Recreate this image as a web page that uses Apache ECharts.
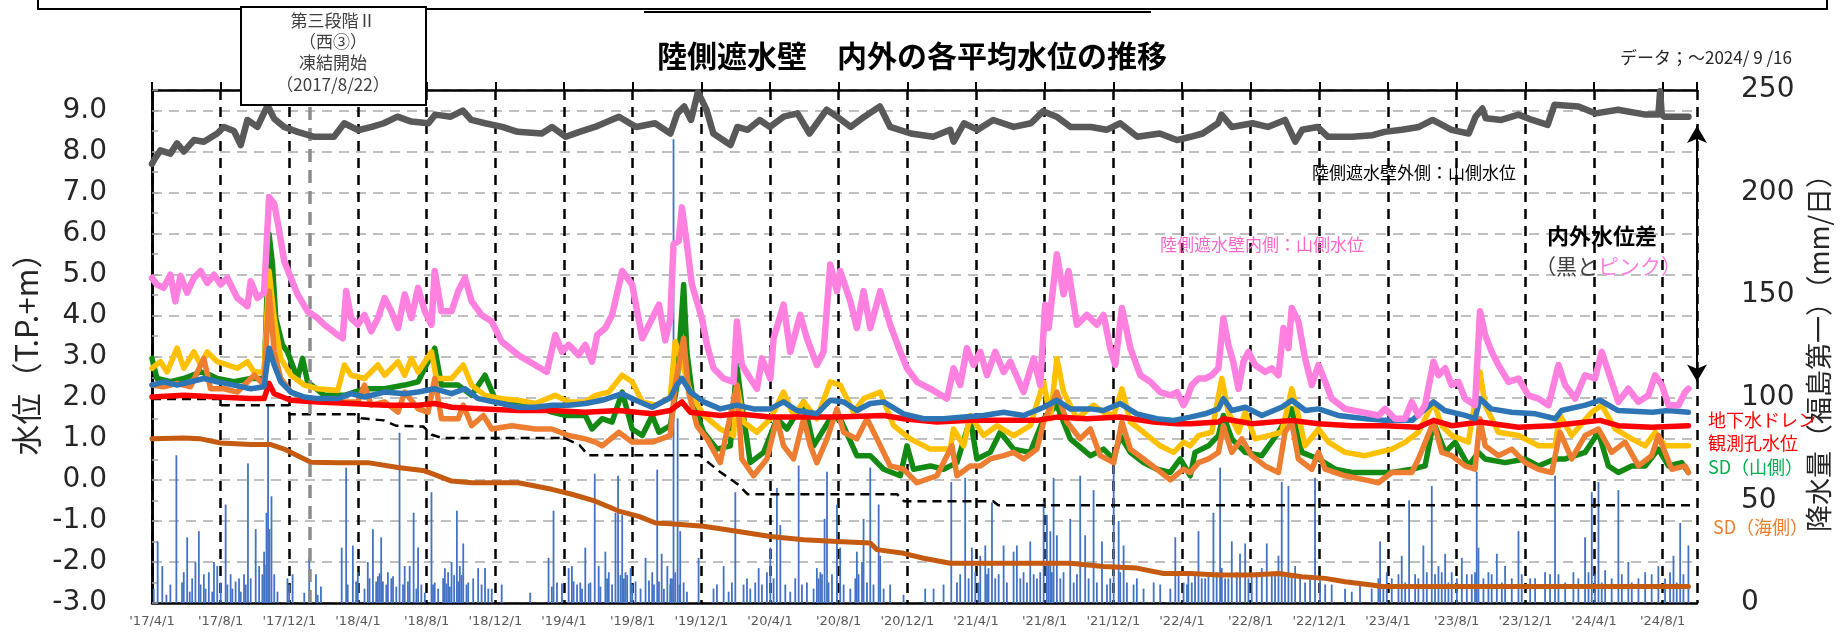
<!DOCTYPE html>
<html>
<head>
<meta charset="utf-8">
<script src="https://cdn.jsdelivr.net/npm/echarts@6/dist/echarts.min.js"></script>
<style>
html, body { margin: 0; padding: 0; background: #fff; }
#main { width: 1845px; height: 636px; }
</style>
</head>
<body>
<div id="main"></div>
<script>
// 横軸は 2017/4/1 からの経過月数（4か月ごとに目盛）
var tickLabels = ["'17/4/1", "'17/8/1", "'17/12/1", "'18/4/1", "'18/8/1", "'18/12/1",
    "'19/4/1", "'19/8/1", "'19/12/1", "'20/4/1", "'20/8/1", "'20/12/1",
    "'21/4/1", "'21/8/1", "'21/12/1", "'22/4/1", "'22/8/1", "'22/12/1",
    "'23/4/1", "'23/8/1", "'23/12/1", "'24/4/1", "'24/8/1"];

// 陸側遮水壁外側：山側水位（黒）
var outerMountain = [[0,7.7],[0.2,7.85],[0.49,8.03],[1.07,7.95],[1.46,8.2],[1.85,8.0],[2.44,8.28],[3.02,8.24],[3.8,8.44],[4.19,8.6],[4.78,8.5],[5.17,8.16],[5.56,8.77],[6.14,8.6],[6.73,9.12],[7.12,8.8],[7.7,8.6],[8.48,8.48],[9.45,8.36],[10.6,8.36],[11.2,8.69],[12.0,8.52],[12.8,8.6],[13.5,8.69],[14.3,8.85],[15.1,8.73],[16.1,8.69],[16.5,8.9],[17.4,8.85],[18.1,9.0],[18.6,8.77],[19.4,8.69],[20.4,8.6],[21.3,8.48],[22.7,8.44],[23.3,8.6],[24.1,8.36],[24.9,8.48],[25.8,8.6],[27.2,8.85],[28.2,8.6],[29.3,8.69],[30.2,8.44],[30.6,8.93],[31.0,9.1],[31.4,8.77],[31.8,9.45],[32.3,9.02],[32.7,8.44],[33.7,8.16],[34.1,8.6],[34.7,8.53],[35.4,8.77],[36.0,8.6],[36.8,8.85],[37.6,8.93],[38.3,8.44],[39.3,9.02],[39.9,8.85],[40.7,8.6],[41.5,8.85],[42.4,9.1],[43.0,8.6],[44.2,8.44],[45.5,8.36],[46.5,8.53],[46.7,8.24],[47.3,8.69],[48.1,8.53],[49.0,8.77],[50.2,8.6],[51.2,8.69],[51.9,8.98],[52.7,8.85],[53.5,8.6],[54.7,8.6],[55.6,8.53],[56.4,8.69],[57.4,8.36],[58.7,8.44],[59.7,8.28],[60.5,8.36],[61.2,8.44],[62.1,8.69],[62.3,8.9],[62.9,8.6],[64.1,8.69],[65.0,8.6],[66.0,8.77],[66.6,8.24],[67.0,8.53],[67.9,8.6],[68.5,8.36],[69.9,8.36],[71.1,8.4],[71.8,8.48],[72.8,8.53],[73.8,8.6],[74.6,8.77],[75.7,8.53],[76.7,8.44],[77.1,8.85],[77.5,9.05],[77.7,8.81],[78.6,8.77],[79.6,8.9],[80.4,8.77],[81.3,8.65],[81.7,9.14],[83.1,9.1],[84.1,8.93],[85.4,9.02],[87.0,8.9],[87.75,8.9],[87.85,9.47],[87.95,8.9],[88.1,8.85],[89.5,8.85]];

// 陸側遮水壁内側：山側水位（ピンク）
var innerMountain = [[0,4.92],[0.29,4.76],[0.68,4.68],[1.07,5.0],[1.36,4.35],[1.66,4.97],[2.05,4.56],[2.44,4.92],[2.83,5.09],[3.22,4.8],[3.61,5.0],[4.0,4.76],[4.39,4.92],[4.97,4.43],[5.56,4.23],[5.75,4.84],[6.14,4.43],[6.53,4.56],[6.82,6.89],[7.12,6.73],[7.41,6.07],[7.7,5.33],[8.09,4.92],[8.48,4.52],[9.06,4.11],[9.65,3.94],[10.04,3.78],[10.82,3.53],[11.11,3.45],[11.31,4.6],[11.6,3.94],[11.99,3.78],[12.38,4.02],[12.77,3.62],[13.16,3.94],[13.55,4.43],[13.94,4.11],[14.33,3.7],[14.72,4.52],[15.11,3.94],[15.5,4.68],[15.89,4.11],[16.28,3.78],[16.47,5.09],[16.86,4.11],[17.45,4.11],[17.84,4.6],[18.23,4.92],[18.62,4.35],[19.2,4.02],[19.79,3.86],[20.37,3.37],[21.34,3.04],[22.32,2.8],[23.0,2.63],[23.49,3.53],[23.88,3.12],[24.27,3.29],[24.85,3.04],[25.24,3.29],[25.63,2.88],[25.93,3.53],[26.41,3.7],[26.8,4.02],[27.39,5.09],[27.97,4.76],[28.56,3.45],[28.95,3.78],[29.53,4.27],[29.9,3.4],[30.19,3.94],[30.38,5.74],[30.68,5.82],[30.87,6.64],[31.16,5.74],[31.45,4.76],[31.74,4.35],[32.03,3.94],[32.33,3.29],[32.71,2.72],[33.3,2.47],[33.88,2.39],[34.07,3.86],[34.36,2.8],[34.85,2.47],[35.24,2.22],[35.53,2.96],[36.02,2.47],[36.21,3.45],[36.79,4.27],[37.18,3.12],[37.76,4.02],[38.15,3.45],[38.73,2.8],[39.12,3.12],[39.51,5.25],[39.9,4.6],[40.09,5.09],[40.68,4.35],[41.06,3.7],[41.45,4.6],[41.84,3.7],[42.42,4.6],[43.0,3.78],[43.59,3.12],[43.98,2.72],[44.56,2.39],[45.34,2.22],[46.31,1.98],[46.69,2.72],[47.08,2.31],[47.47,3.21],[47.86,2.8],[48.25,3.12],[48.64,2.55],[49.12,3.12],[49.61,2.63],[50.0,2.88],[50.77,2.14],[51.36,2.96],[51.74,2.31],[52.03,4.27],[52.23,3.7],[52.71,5.5],[53.1,4.52],[53.39,5.09],[53.88,3.78],[54.46,4.02],[55.04,3.78],[55.43,4.02],[55.82,3.21],[56.11,2.8],[56.5,4.19],[56.99,3.21],[57.57,2.55],[58.15,2.39],[58.73,2.14],[59.32,2.06],[59.71,2.14],[60.09,1.82],[60.3,2.0],[60.57,2.31],[60.96,2.47],[61.35,2.47],[61.73,2.55],[62.12,2.72],[62.41,3.94],[62.7,3.29],[62.98,2.88],[63.29,2.22],[63.58,2.88],[63.87,3.12],[64.26,2.8],[64.84,2.63],[65.23,2.72],[65.62,2.55],[65.91,3.7],[66.2,3.21],[66.39,4.19],[66.78,3.86],[67.17,2.96],[67.56,2.31],[67.95,2.8],[68.34,2.39],[68.72,1.98],[69.5,1.73],[70.47,1.65],[71.44,1.57],[71.83,1.73],[72.41,1.49],[72.99,1.49],[73.38,1.9],[73.77,1.57],[74.16,1.82],[74.65,2.88],[74.94,2.55],[75.33,2.72],[75.71,2.31],[76.1,2.39],[76.49,1.98],[77.07,1.82],[77.36,4.11],[77.66,3.53],[78.04,3.12],[78.43,2.8],[79.02,2.39],[79.6,2.47],[80.18,2.06],[80.76,1.98],[81.35,1.82],[81.93,2.8],[82.32,2.31],[82.9,1.98],[83.48,2.55],[84.06,2.47],[84.45,3.12],[84.84,2.63],[85.42,1.9],[86.0,2.22],[86.59,1.9],[87.17,2.06],[87.56,2.55],[87.95,2.31],[88.34,1.82],[88.92,1.82],[89.31,2.14],[89.5,2.22]];

// 青線
var blueLevel = [[0,2.31],[0.68,2.39],[1.46,2.31],[2.24,2.39],[3.02,2.47],[3.8,2.39],[4.78,2.31],[5.75,2.22],[6.53,2.27],[6.82,3.21],[7.12,2.8],[7.5,2.39],[8.09,2.14],[8.87,2.02],[9.65,1.98],[10.82,1.98],[11.6,2.1],[12.38,2.02],[13.55,2.14],[14.72,2.1],[15.5,2.14],[16.47,2.22],[17.45,2.1],[18.23,2.22],[19.0,1.98],[20.37,1.86],[21.34,1.77],[22.32,1.77],[23.29,1.82],[24.27,1.82],[25.24,1.86],[26.22,1.94],[27.39,2.1],[28.17,1.94],[29.14,1.77],[30.19,2.0],[30.57,2.31],[30.87,2.47],[31.36,2.14],[32.13,1.9],[33.1,1.73],[34.07,1.82],[35.04,1.73],[36.02,1.73],[36.79,1.9],[37.57,1.69],[38.73,1.61],[39.51,1.94],[40.29,1.9],[41.06,1.69],[41.84,1.86],[42.62,1.9],[43.78,1.61],[44.95,1.49],[46.11,1.49],[47.28,1.53],[48.44,1.57],[49.61,1.65],[50.77,1.57],[51.94,1.77],[52.71,1.94],[53.49,1.73],[54.65,1.73],[55.43,1.69],[56.4,1.86],[57.37,1.61],[58.54,1.49],[59.51,1.45],[60.48,1.53],[61.35,1.61],[62.12,1.73],[62.41,1.98],[62.9,1.69],[63.7,1.77],[64.65,1.57],[65.8,1.77],[66.4,1.94],[67.2,1.69],[67.95,1.73],[69.1,1.57],[70.7,1.49],[71.8,1.45],[73.4,1.45],[74.65,1.9],[75.3,1.69],[76.5,1.57],[77.07,1.49],[77.36,1.98],[78.0,1.73],[79.2,1.65],[80.6,1.61],[81.75,1.49],[82.1,1.69],[83.5,1.82],[84.35,1.94],[85.4,1.69],[87.4,1.65],[88.3,1.69],[89.5,1.65]];

// 地下水ドレン観測孔水位（赤）
var drainLevel = [[0,2.02],[1.85,2.06],[3.8,2.02],[5.75,1.98],[6.53,1.98],[6.82,2.35],[7.12,2.1],[8.09,1.94],[9.65,1.9],[11.6,1.86],[13.55,1.82],[15.5,1.82],[16.47,1.86],[17.45,1.77],[19.4,1.73],[21.34,1.69],[23.29,1.69],[25.24,1.65],[27.19,1.69],[29.14,1.61],[30.19,1.69],[30.87,1.9],[31.36,1.65],[33.1,1.57],[34.07,1.61],[36.02,1.53],[37.96,1.53],[39.9,1.53],[42.62,1.57],[43.78,1.49],[45.72,1.41],[47.67,1.45],[49.61,1.45],[51.55,1.45],[52.71,1.53],[54.46,1.49],[56.4,1.53],[58.35,1.41],[59.71,1.37],[60.48,1.37],[62.12,1.41],[62.41,1.49],[64.06,1.37],[66.39,1.45],[67.95,1.37],[69.89,1.32],[71.83,1.32],[73.77,1.28],[74.65,1.45],[75.71,1.32],[77.36,1.41],[79.6,1.28],[81.54,1.32],[84.35,1.45],[85.42,1.32],[87.36,1.28],[89.5,1.32]];

// 黄線
var yellowLevel = [[0,2.72],[0.49,2.88],[0.88,2.63],[1.46,3.21],[1.85,2.72],[2.44,3.12],[2.83,2.8],[3.22,3.12],[3.8,2.88],[4.39,2.8],[4.97,2.72],[5.56,2.88],[5.95,2.63],[6.53,2.63],[6.82,5.09],[7.12,3.94],[7.5,2.96],[8.09,2.55],[8.87,2.31],[9.65,2.22],[10.82,2.18],[11.21,2.8],[11.6,2.55],[12.38,2.47],[13.16,2.8],[13.55,2.55],[14.33,2.88],[14.72,2.55],[15.11,2.96],[15.5,2.63],[16.28,3.12],[16.57,2.47],[17.45,2.47],[18.13,2.8],[18.62,2.31],[19.4,2.06],[20.37,1.98],[21.34,1.94],[22.32,1.86],[23.49,2.06],[24.27,1.9],[25.24,1.9],[25.83,2.06],[26.61,2.14],[27.39,2.55],[27.97,2.39],[28.56,1.9],[29.34,1.82],[30.19,2.0],[30.48,3.37],[30.87,2.88],[31.36,2.14],[32.13,1.57],[33.1,1.24],[33.88,1.08],[34.07,2.31],[34.46,1.41],[35.24,1.16],[36.02,1.49],[36.79,2.14],[37.37,1.57],[37.96,1.9],[38.73,1.49],[39.51,2.39],[40.09,2.31],[40.87,1.65],[41.45,1.98],[42.42,2.14],[43.2,1.32],[44.17,1.0],[45.34,0.75],[46.5,0.75],[46.69,1.24],[47.28,0.83],[47.67,1.57],[48.44,1.08],[49.22,1.32],[50.19,1.08],[51.16,1.32],[51.94,2.39],[52.33,1.49],[52.71,2.96],[53.1,2.14],[53.88,1.49],[54.85,1.82],[55.43,1.65],[56.02,1.57],[56.5,2.22],[56.99,1.41],[57.76,1.16],[58.73,0.83],[59.51,0.67],[60.09,0.92],[60.48,0.83],[60.96,1.08],[61.73,1.16],[62.32,2.47],[62.7,1.65],[63.29,1.16],[63.68,1.65],[64.26,1.0],[65.03,1.08],[65.81,1.16],[66.39,2.22],[66.78,1.57],[67.17,0.83],[67.95,1.24],[68.53,0.92],[69.5,0.67],[70.67,0.59],[71.44,0.67],[72.22,0.75],[73.0,0.92],[73.77,1.16],[74.65,1.9],[75.13,1.32],[75.71,1.08],[76.68,0.92],[77.36,2.63],[77.66,1.82],[78.43,1.16],[79.6,1.08],[80.76,0.83],[81.73,0.83],[82.02,1.57],[82.7,1.08],[83.87,1.65],[84.45,1.82],[85.23,1.24],[86.2,1.0],[86.98,0.83],[87.56,1.16],[88.14,0.83],[88.92,0.83],[89.5,0.83]];

// SD（山側）（緑）
var sdMountain = [[0,2.96],[0.29,2.47],[1.07,2.39],[1.85,2.47],[2.83,2.63],[3.41,2.55],[3.8,2.47],[4.78,2.39],[5.75,2.47],[6.53,2.47],[6.82,5.99],[7.02,5.25],[7.21,3.94],[7.6,3.29],[7.89,3.12],[8.48,2.47],[8.77,2.96],[9.06,2.39],[10.04,2.06],[11.21,2.06],[12.38,2.22],[13.55,2.22],[14.72,2.31],[15.5,2.39],[16.47,3.21],[16.86,2.31],[17.84,2.31],[18.62,2.06],[19.4,2.55],[19.98,1.98],[21.34,1.9],[22.32,1.82],[23.29,1.65],[24.07,1.57],[25.24,1.57],[25.63,1.24],[26.22,1.49],[26.8,1.41],[27.39,2.14],[27.97,1.24],[28.56,1.08],[29.14,1.57],[29.53,1.16],[30.19,1.32],[30.58,2.31],[30.97,4.76],[31.16,3.12],[31.55,1.82],[32.13,1.16],[32.91,0.75],[33.69,0.83],[34.07,2.8],[34.36,1.82],[34.85,0.42],[35.63,0.67],[36.4,1.49],[36.99,1.24],[37.96,1.9],[38.54,0.83],[39.51,1.49],[40.09,1.49],[41.06,0.59],[41.84,0.59],[42.62,0.26],[43.59,0.1],[43.98,0.83],[44.36,0.26],[45.34,0.34],[46.11,0.26],[46.89,0.42],[47.67,1.49],[48.05,0.51],[48.83,0.67],[49.41,1.16],[50.19,0.75],[51.16,0.67],[51.94,1.49],[52.71,1.82],[53.49,1.0],[54.66,0.59],[55.43,0.75],[56.02,0.51],[56.4,1.08],[56.99,0.67],[57.76,0.42],[58.54,0.26],[59.32,0.18],[59.9,0.51],[60.48,0.1],[60.76,0.67],[61.54,0.83],[62.12,1.08],[62.41,1.57],[62.9,1.0],[63.68,0.67],[64.65,0.59],[65.62,1.16],[66.39,1.73],[66.98,0.67],[67.95,0.51],[68.92,0.26],[69.89,0.18],[71.05,0.18],[72.22,0.18],[73.38,0.26],[74.16,0.34],[74.65,1.41],[75.33,0.67],[75.91,0.92],[76.69,0.34],[77.27,0.67],[77.66,0.51],[78.82,0.42],[79.99,0.51],[80.76,0.34],[81.73,0.51],[82.32,0.51],[83.48,0.67],[84.26,1.16],[84.84,0.34],[85.42,0.18],[86.2,0.34],[86.98,0.34],[87.75,0.75],[88.34,0.34],[89.11,0.42],[89.5,0.18]];

// SD（海側）（橙）
var sdSea = [[0,2.31],[0.68,2.27],[1.46,2.35],[2.24,2.27],[3.02,2.96],[3.41,2.22],[4.19,2.22],[4.97,2.14],[5.95,2.55],[6.53,2.31],[6.82,4.6],[7.12,3.12],[7.5,2.47],[8.09,2.14],[8.87,1.98],[10.04,1.94],[11.21,1.9],[11.99,1.9],[12.38,2.31],[12.77,1.82],[13.55,1.9],[14.33,1.65],[14.72,2.14],[15.5,1.73],[16.08,1.65],[16.47,2.47],[16.86,1.49],[17.84,1.49],[18.13,1.82],[18.62,1.32],[19.3,1.57],[19.79,1.24],[20.96,1.32],[22.32,1.24],[23.29,1.24],[24.27,1.08],[25.24,1.0],[25.83,0.92],[26.22,0.83],[27.19,1.16],[27.97,0.92],[29.14,0.92],[30.19,1.08],[30.48,2.31],[30.97,3.45],[31.26,2.14],[31.74,1.32],[32.33,1.0],[33.1,0.42],[34.07,2.31],[34.36,0.51],[35.04,0.1],[35.82,0.51],[36.4,1.49],[36.79,0.83],[37.37,0.51],[37.96,1.49],[38.35,0.83],[38.73,0.42],[39.32,1.0],[39.9,1.73],[40.29,1.16],[41.06,1.0],[41.65,1.49],[42.23,1.0],[43.0,0.34],[43.78,0.26],[44.56,-0.07],[45.72,0.1],[46.6,0.83],[46.89,0.1],[47.67,0.34],[48.25,0.34],[48.83,0.51],[49.61,0.59],[50.19,0.67],[50.77,0.51],[51.55,0.75],[51.94,1.41],[52.71,2.14],[53.3,1.41],[54.07,1.0],[54.66,1.24],[55.24,0.59],[56.02,0.42],[56.5,1.41],[56.99,0.75],[57.76,0.51],[58.54,0.26],[59.32,0.0],[60.09,0.26],[60.48,0.18],[60.96,0.42],[61.54,0.51],[62.12,0.67],[62.41,1.32],[62.9,0.67],[63.48,1.0],[64.06,0.59],[64.84,0.34],[65.62,0.18],[66.0,1.16],[66.39,1.41],[66.78,0.51],[67.56,0.26],[67.95,0.67],[68.34,0.26],[69.5,0.1],[70.67,0.0],[71.44,-0.07],[72.22,0.18],[73.38,0.18],[73.77,0.51],[74.65,1.41],[75.13,0.67],[75.71,0.59],[76.49,0.34],[77.07,0.26],[77.36,1.49],[77.66,0.83],[78.43,0.59],[79.21,0.75],[79.99,0.42],[80.76,0.26],[81.54,0.18],[82.02,1.16],[82.7,0.51],[83.48,1.08],[84.26,1.24],[85.03,0.67],[85.81,0.92],[86.59,0.34],[87.36,0.59],[87.75,1.08],[88.53,0.26],[89.31,0.34],[89.5,0.18]];

// 茶線（下段）
var brownLevel = [[0,1.0],[1.85,1.02],[2.83,1.0],[4.0,0.9],[5.75,0.86],[6.92,0.86],[7.7,0.75],[8.48,0.59],[9.26,0.43],[10.82,0.42],[12.57,0.42],[14.33,0.3],[15.89,0.22],[17.45,-0.03],[18.62,-0.07],[19.98,-0.07],[21.34,-0.07],[23.29,-0.23],[24.46,-0.35],[25.83,-0.52],[27.19,-0.76],[28.36,-0.89],[29.34,-1.05],[30.21,-1.07],[32.13,-1.13],[34.07,-1.25],[36.02,-1.38],[37.96,-1.46],[39.9,-1.5],[41.84,-1.54],[42.23,-1.7],[43.78,-1.79],[44.95,-1.91],[46.5,-2.03],[49.61,-2.03],[53.49,-2.03],[55.43,-2.11],[57.37,-2.15],[58.93,-2.28],[60.48,-2.28],[62.12,-2.32],[64.06,-2.32],[65.62,-2.28],[66.98,-2.36],[68.34,-2.4],[69.5,-2.48],[71.05,-2.56],[71.64,-2.6],[89.5,-2.6]];

// 黒破線（段階的に下がる線）
var stepLevel = [[0,1.97],[4,1.97],[4,1.82],[8,1.82],[8,1.6],[11.8,1.6],[12.2,1.5],[13.5,1.45],[14.2,1.32],[15.8,1.3],[16.3,1.1],[16.9,1.02],[24.0,1.02],[24.9,0.85],[25.4,0.6],[31.9,0.6],[33.1,0.19],[34.1,-0.1],[34.7,-0.35],[43.4,-0.35],[43.8,-0.52],[49.0,-0.52],[49.3,-0.62],[89.6,-0.62]];

// 降水量（mm/日）
var rainPeaks = [[0.33,30],[0.6,18],[1.42,72],[1.85,15],[2.05,32],[2.34,12],[2.53,20],[2.73,35],[3.02,14],[3.31,15],[3.61,20],[3.8,18],[4.29,48],[4.58,14],[5.07,12],[5.36,14],[5.59,68],[5.75,12],[6.04,36],[6.24,18],[6.53,25],[6.67,44],[6.76,97],[6.84,36],[6.96,52],[7.12,14],[7.89,12],[8.19,14],[8.87,5],[9.16,22],[9.55,14],[9.84,8],[11.05,27],[11.31,66],[11.7,28],[11.99,15],[12.57,20],[12.87,36],[13.16,13],[13.35,32],[13.74,15],[14.04,13],[14.42,83],[14.72,18],[15.01,18],[15.24,44],[15.5,27],[15.89,5],[16.28,54],[16.47,10],[17.06,17],[17.25,15],[17.45,20],[17.76,45],[17.93,18],[18.13,29],[18.42,10],[19.0,17],[19.4,17],[19.79,7],[20.37,9],[22.03,5],[23.1,22],[23.39,45],[23.59,10],[24.27,17],[24.46,18],[24.95,10],[25.24,27],[25.54,10],[25.79,63],[26.02,18],[26.41,25],[26.61,15],[27.0,44],[27.15,62],[27.39,43],[27.58,15],[27.88,17],[28.75,22],[29.14,15],[29.43,65],[29.69,24],[30.02,18],[30.21,12],
    [30.38,226],[30.62,90],[30.77,35],[30.97,10],[31.84,22],[33.3,18],[33.98,54],[34.66,12],[35.34,17],[36.02,27],[36.4,56],[36.6,38],[37.67,67],[38.73,17],[39.18,41],[39.32,64],[39.9,48],[40.09,27],[41.06,25],[41.36,20],[41.45,41],[41.84,66],[42.33,48],[42.42,23],[43.0,9],[43.78,4],[45.04,7],[46.56,59],[47.37,61],[47.76,27],[48.25,23],[48.54,28],[48.93,49],[49.61,28],[50.19,25],[50.38,28],[51.16,30],[51.94,49],[52.13,43],[52.33,35],[52.52,61],[52.71,33],[53.49,41],[54.07,62],[54.36,33],[54.85,55],[55.34,30],[56.02,67],[56.31,40],[56.6,28],[57.37,12],[58.35,10],[59.61,32],[60.09,10],
    [60.96,35],[61.35,12],[61.83,44],[62.22,66],[62.51,12],[62.9,30],[63.38,24],[63.68,29],[64.06,15],[64.94,29],[65.23,15],[65.62,23],[65.81,59],[66.2,57],[66.59,18],[67.75,61],[68.04,12],[68.72,9],[69.5,7],[70.37,10],[71.54,30],[71.93,15],[72.8,23],[73.23,50],[73.58,14],[74.06,28],[74.55,57],[74.94,18],[75.33,24],[75.71,15],[76.3,22],[76.88,14],[77.17,64],[77.27,27],[77.85,15],[78.34,24],[78.82,18],[79.6,35],[80.28,12],[81.15,15],[81.73,62],[82.8,15],[83.48,32],[83.87,54],[84.26,59],[84.65,16],[85.42,55],[86.0,20],[86.98,15],[87.75,18],[88.63,23],[89.02,39],[89.5,28]];
var rainSmall = [[0.1,7],[0.84,4],[1.07,9],[1.75,10],[2.2,5.5],[2.83,9],[3.12,7],[3.51,5.5],[4.0,10],[4.39,9],[4.68,7],[4.87,10.5],[5.17,5.5],[5.46,9],[6.43,14],[6.57,18.5],[7.31,5.5],[7.99,9],[9.65,4],[11.4,9],[11.89,10.5],[12.38,7],[12.67,12],[13.06,10.5],[13.26,14.5],[13.45,10.5],[13.65,9],[13.94,12],[14.23,8],[14.62,9],[14.91,10.5],[15.4,7],[15.69,9],[16.37,9],[16.67,7],[16.96,12],[17.15,9.5],[17.35,8],[17.6,13.6],[17.84,10.5],[18.03,13.6],[18.32,9],[18.71,12],[19.2,9],[19.59,7],[23.29,8],[23.88,9.5],[24.56,10.5],[24.76,9],[25.05,7],[25.44,9.5],[26.12,8],[26.51,12],[26.8,9],[27.29,13.6],[27.49,12],[27.68,13.6],[27.97,9],[28.17,10.5],[28.46,7],[28.95,11],[29.24,9],[29.53,10.5],[29.82,7],
    [30.19,9],[30.29,12],[30.48,15],[30.73,9],[31.16,5.5],[32.71,7],[32.91,9],[33.59,5.5],[33.78,10],[34.46,9],[34.85,7],[35.14,10],[35.53,9],[35.82,15],[36.21,12],[36.89,9],[37.18,5.5],[37.47,12],[37.86,9],[38.15,10],[38.54,7],[38.83,12],[38.93,15],[39.03,14],[39.41,10],[39.61,14],[40.29,9],[40.68,7],[40.97,12],[41.16,14],[41.65,10],[42.03,9],[42.62,7],[45.53,7],[46.11,9],[46.89,10],[47.08,14],[47.57,12],[47.96,15],[48.15,10],[48.64,14],[48.73,17],[49.12,12],[49.32,14],[49.8,10],[50.58,12],[50.77,15],[50.97,10],[51.36,14],[51.55,12],[51.74,15],[52.23,18.5],[52.42,15],[52.91,12],[53.1,15],[53.69,10],[53.88,14],[54.56,12],[55.04,10],[55.63,9],[55.82,12],[56.4,15],[56.79,10],[57.18,9],[57.76,7],[58.73,9],[59.32,7],[59.8,15],[60.29,9],
    [60.37,14],[60.57,10],[60.76,15],[61.15,12],[61.54,14],[62.02,15],[62.32,17],[62.7,12],[63.19,15],[63.87,12],[64.35,15],[64.65,17],[65.42,14],[66.0,15],[66.39,14],[66.88,12],[67.17,10],[67.46,12],[68.34,9],[69.89,5.5],[71.05,7],[71.44,12],[71.73,9],[72.22,12],[72.61,14],[73.0,10],[73.77,12],[74.26,15],[74.74,14],[75.13,15],[75.52,10],[76.01,12],[76.59,14],[77.07,15],[77.56,12],[78.04,14],[78.63,10],[79.21,12],[79.79,14],[80.57,12],[81.44,14],[81.93,14],[82.32,10],[83.09,12],[83.68,15],[84.06,14],[84.45,10],[85.03,12],[85.62,14],[86.2,10],[86.59,12],[87.36,14],[88.14,12],[88.43,15],[88.82,10],[89.21,14]];

var jpFont = 'Noto Sans CJK JP';
var numFont = 'DejaVu Sans';

var chart = echarts.init(document.getElementById('main'));

function lineSeries(name, data, color, width, z) {
    return {
        name: name,
        type: 'line',
        data: data,
        xAxisIndex: 0,
        yAxisIndex: 0,
        showSymbol: false,
        symbol: 'none',
        lineStyle: { color: color, width: width, join: 'round', cap: 'round' },
        z: z,
        silent: true
    };
}

// 注記テキスト用
function label(x, y, text, color, size, weight) {
    return {
        type: 'text', z: 101, x: x, y: y,
        style: {
            text: text, fill: color, fontSize: size, fontFamily: jpFont,
            fontWeight: weight || 'normal', textVerticalAlign: 'middle'
        }
    };
}
function boxLine(y, text) {
    var t = label(333, y, text, '#404040', 17);
    t.style.textAlign = 'center';
    return t;
}

var seriesList = [
    {
        name: '降水量',
        type: 'bar',
        data: rainPeaks.concat(rainSmall),
        xAxisIndex: 0,
        yAxisIndex: 1,
        barWidth: 1.8,
        itemStyle: { color: '#4472C4' },
        z: 1,
        silent: true
    }
];
var brown = lineSeries('茶', brownLevel, '#C55A11', 5, 2);
// 凍結開始の縦線
brown.markLine = {
    silent: true, symbol: 'none', label: { show: false },
    lineStyle: { color: '#8C8C8C', width: 3.5, type: [13, 8] },
    data: [{ xAxis: 9.2 }]
};
seriesList.push(brown);
var step = lineSeries('黒破線', stepLevel, '#000000', 2.5, 3);
step.lineStyle.type = [9, 6];
step.lineStyle.cap = 'butt';
seriesList.push(step);
seriesList.push(lineSeries('SD（山側）', sdMountain, '#138A13', 5.5, 4));
seriesList.push(lineSeries('黄', yellowLevel, '#FFC000', 5.5, 5));
seriesList.push(lineSeries('SD（海側）', sdSea, '#ED7D31', 5.5, 6));
seriesList.push(lineSeries('地下水ドレン観測孔水位', drainLevel, '#FF0000', 5.5, 7));
seriesList.push(lineSeries('青', blueLevel, '#2E75B6', 5.5, 8));
seriesList.push(lineSeries('陸側遮水壁内側：山側水位', innerMountain, '#FF80DF', 6.5, 9));
var outer = lineSeries('陸側遮水壁外側：山側水位', outerMountain, '#595959', 6.5, 10);
// 内外水位差の両矢印
outer.markLine = {
    silent: true, symbol: ['arrow', 'arrow'], symbolSize: [15, 17], label: { show: false },
    lineStyle: { color: '#000000', width: 2, type: 'solid' },
    data: [[{ coord: [90, 8.62] }, { coord: [90, 2.4] }]]
};
seriesList.push(outer);

chart.setOption({
    animation: false,
    backgroundColor: '#ffffff',
    title: {
        text: '陸側遮水壁　内外の各平均水位の推移',
        left: 652,
        top: 36,
        textStyle: { fontSize: 30, fontWeight: 'bold', fontFamily: jpFont, color: '#000' }
    },
    grid: { left: 152, right: 148, top: 90, bottom: 33 },
    xAxis: [{
        type: 'value', min: 0, max: 90, interval: 4, position: 'bottom',
        axisLine: { onZero: false, lineStyle: { color: '#000', width: 2.5 } },
        axisTick: { show: false },
        axisLabel: {
            showMaxLabel: false, margin: 12, fontSize: 13, color: '#595959', fontFamily: numFont,
            formatter: function (v) {
                var i = Math.round(v / 4);
                return (Math.abs(v - i * 4) < 1e-6 && i < tickLabels.length) ? tickLabels[i] : '';
            }
        },
        splitLine: { show: true, lineStyle: { color: '#000', width: 2.5, type: [10, 7] } }
    }, {
        type: 'value', min: 0, max: 90, interval: 4, position: 'top',
        axisLine: { onZero: false, lineStyle: { color: '#000', width: 2.5 } },
        axisTick: { show: true, length: 8, lineStyle: { color: '#000', width: 2 } },
        axisLabel: { show: false },
        splitLine: { show: false }
    }],
    yAxis: [{
        type: 'value', min: -3, max: 9.5, interval: 1, position: 'left',
        name: '水位（T.P.+m）', nameLocation: 'middle', nameRotate: 90, nameGap: 100,
        nameTextStyle: { fontSize: 31, fontFamily: jpFont, color: '#262626' },
        axisLine: { show: true, lineStyle: { color: '#000', width: 2.5 } },
        axisTick: { show: false },
        axisLabel: {
            showMaxLabel: false, margin: 45, fontSize: 28, color: '#262626', fontFamily: numFont,
            formatter: function (v) { return v.toFixed(1); }
        },
        splitLine: { show: true, lineStyle: { color: '#BFBFBF', width: 2, type: [10, 7] } }
    }, {
        type: 'value', min: 0, max: 250, interval: 50, position: 'right',
        name: '降水量（福島第一）（mm/日）', nameLocation: 'middle', nameRotate: 90, nameGap: 108,
        nameTextStyle: { fontSize: 27, fontFamily: jpFont, color: '#262626' },
        axisLine: { show: true, lineStyle: { color: '#000', width: 2.5 } },
        axisTick: { show: true, length: 6, lineStyle: { color: '#A6A6A6', width: 1.5 } },
        minorTick: { show: true, splitNumber: 5, length: 6, lineStyle: { color: '#A6A6A6', width: 1.5 } },
        axisLabel: { margin: 44, fontSize: 28, color: '#262626', fontFamily: numFont },
        splitLine: { show: false }
    }],
    graphic: [
        // 上部の枠線
        { type: 'polyline', z: 100, shape: { points: [[38, 0], [38, 9], [1827, 9], [1827, 0]] }, style: { stroke: '#000', lineWidth: 2, fill: null } },
        { type: 'line', z: 100, shape: { x1: 644, y1: 12, x2: 1151, y2: 12 }, style: { stroke: '#000', lineWidth: 2 } },
        // 注記ボックス
        { type: 'rect', z: 100, shape: { x: 241, y: 7, width: 185, height: 98 }, style: { fill: '#fff', stroke: '#000', lineWidth: 2 } },
        boxLine(21, '第三段階Ⅱ'),
        boxLine(42, '（西③）'),
        boxLine(63, '凍結開始'),
        boxLine(85, '（2017/8/22）'),
        // データ期間
        label(1620, 58, 'データ；～2024/ 9 /16', '#262626', 17),
        // 系列名の注記
        label(1312, 173, '陸側遮水壁外側：山側水位', '#000', 17),
        label(1160, 245, '陸側遮水壁内側：山側水位', '#FF66CC', 17),
        label(1547, 236, '内外水位差', '#000', 22, 'bold'),
        {
            type: 'text', z: 101, x: 1535, y: 266, style: {
                text: '{a|（黒と}{b|ピンク）}', textVerticalAlign: 'middle',
                rich: {
                    a: { fill: '#404040', fontSize: 21, fontFamily: jpFont },
                    b: { fill: '#FF80DF', fontSize: 21, fontFamily: jpFont }
                }
            }
        },
        label(1708, 420, '地下水ドレン', '#FF0000', 18),
        label(1708, 443, '観測孔水位', '#FF0000', 18),
        label(1708, 467, 'SD（山側）', '#00B050', 18),
        label(1713, 527, 'SD（海側）', '#ED7D31', 18)
    ],
    series: seriesList
});
</script>
</body>
</html>
